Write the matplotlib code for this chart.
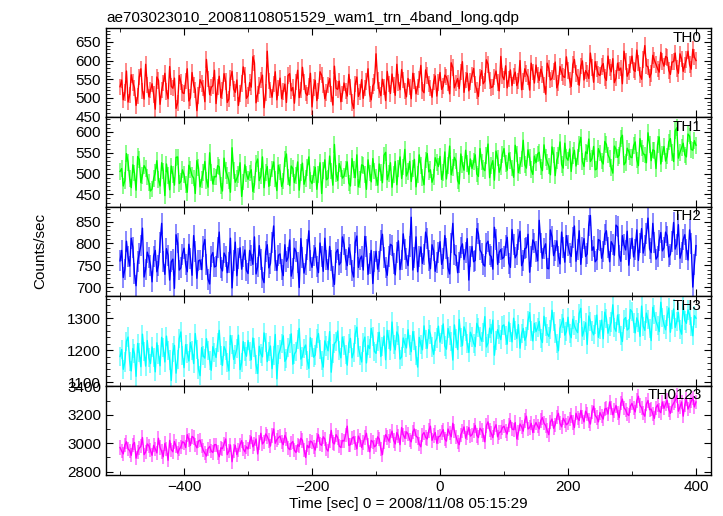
import numpy as np
import matplotlib
matplotlib.use("Agg")
import matplotlib.pyplot as plt
from matplotlib.ticker import MultipleLocator

plt.rcParams['font.family'] = ['Liberation Sans', 'DejaVu Sans']

# tempo: bins de 2.5 s, de -500 a 400 s
t_inicio = -500
t_bin = 2.5

th0 = [530,548, 495,515, 572,489, 508,562, 541,527, 480,505, 556,578, 519,497, 590,535, 503,521,
       538,509, 470,556, 547,483, 521,540, 566,517, 498,584, 531,526, 553,472, 487,560, 542,514,
       512,545, 578,492, 501,568, 535,522, 466,507, 549,539, 527,490, 603,551, 509,528, 533,574,
       485,530, 558,501, 520,565, 544,488, 497,553, 571,524, 515,548, 480,512, 539,583, 562,499,
       506,541, 529,610, 594,487, 511,533, 548,561, 474,514, 625,545, 522,502, 537,570, 495,526,
       553,498, 517,537, 488,560, 565,519, 528,486, 542,574, 501,521, 582,543, 513,507, 531,566,
       476,528, 547,493, 519,570, 561,534, 498,515, 535,552, 510,481, 585,526, 523,545, 490,511,
       540,519, 505,563, 529,488, 472,537, 556,504, 516,549, 499,526, 544,578, 510,495, 532,541,
       618,547, 521,506, 550,529, 493,571, 538,512, 564,535, 507,590, 541,522, 576,548, 519,503,
       552,530, 498,566, 545,511, 530,549, 587,520, 514,575, 560,537, 526,502, 543,559, 505,541,
       568,523, 532,561, 556,540, 511,594, 581,527, 540,552, 525,570, 597,515, 548,566, 519,544,
       562,579, 536,520, 504,555, 573,538, 545,602, 590,547, 528,530, 556,572, 541,519, 611,558,
       549,586, 527,551, 575,533, 558,569, 533,545, 600,522, 544,578, 566,556, 521,593, 570,540,
       588,561, 547,577, 563,535, 510,593, 579,548, 552,571, 596,527, 540,584, 568,557, 555,610,
       574,548, 531,589, 603,565, 556,534, 585,599, 548,573, 566,552, 620,581, 542,597, 578,563,
       560,584, 592,555, 547,612, 581,570, 605,541, 553,593, 574,580, 538,625, 597,558, 569,590,
       612,575, 571,628, 594,561, 550,603, 640,586, 583,555, 566,614, 601,590, 578,569, 622,598,
       585,611, 608,574, 563,596, 597,620, 579,566, 618,604, 571,588, 603,625, 589,577, 630,609,
       600]

th1 = [505,512, 470,483, 548,527, 488,466, 521,501, 460,541, 534,478, 496,519, 512,492, 479,458,
       463,488, 502,531, 485,470, 526,506, 447,523, 495,461, 518,497, 472,539, 540,476, 481,509,
       497,474, 455,520, 510,495, 489,452, 531,514, 468,486, 503,529, 484,467, 550,502, 475,493,
       492,519, 516,471, 458,537, 507,496, 484,455, 562,508, 479,488, 498,526, 445,480, 521,499,
       486,501, 509,457, 473,524, 535,483, 494,540, 466,502, 517,469, 490,511, 528,487, 459,520,
       504,469, 482,535, 547,492, 471,518, 512,478, 495,528, 460,503, 525,474, 488,515, 540,483,
       476,498, 515,462, 497,526, 452,507, 533,485, 489,542, 506,472, 570,500, 483,524, 511,489,
       494,511, 528,477, 470,536, 509,490, 545,468, 486,521, 519,497, 462,533, 501,480, 536,506,
       490,472, 523,503, 478,544, 551,485, 500,526, 467,498, 529,473, 512,540, 488,516, 558,494,
       505,529, 481,512, 534,468, 497,545, 520,490, 473,533, 548,504, 509,479, 492,538, 527,517,
       541,486, 503,552, 487,520, 566,497, 514,539, 530,483, 475,547, 522,508, 556,524, 498,535,
       512,529, 545,499, 493,560, 528,512, 507,543, 571,490, 519,531, 484,554, 537,503, 516,546,
       560,524, 508,549, 532,513, 491,568, 547,502, 520,535, 580,521, 513,557, 538,509, 498,542,
       526,547, 551,516, 507,569, 539,528, 518,497, 564,545, 495,532, 543,576, 522,513, 573,538,
       532,559, 505,543, 556,518, 540,571, 587,529, 517,552, 548,583, 529,536, 565,509, 511,560,
       549,530, 523,577, 570,545, 536,514, 501,566, 558,539, 544,585, 592,521, 527,561, 553,540,
       538,567, 576,533, 519,584, 561,548, 545,526, 598,570, 531,557, 555,512, 570,588, 523,547,
       565,530, 542,576, 584,551, 529,603, 610,537, 551,562, 573,545, 540,595, 590,558, 556,579,
       568]

th2 = [760,784, 722,741, 805,769, 748,812, 791,730, 703,758, 777,796, 835,723, 741,780, 768,750,
       712,771, 784,735, 750,802, 846,759, 729,788, 773,716, 758,764, 697,820, 801,739, 744,775,
       789,752, 735,798, 766,727, 818,781, 720,760, 762,740, 794,809, 751,718, 707,771, 779,746,
       748,791, 826,745, 737,778, 770,733, 756,812, 698,760, 803,726, 765,790, 741,769, 785,738,
       731,784, 772,752, 815,730, 746,795, 763,721, 710,781, 797,744, 754,802, 840,761, 738,773,
       776,741, 726,797, 759,768, 808,725, 743,789, 781,756, 699,811, 767,732, 752,786, 829,760,
       745,773, 790,748, 733,801, 769,736, 812,762, 740,793, 761,724, 706,779, 786,751, 757,815,
       798,764, 749,790, 774,737, 723,802, 817,745, 764,771, 739,816, 792,729, 755,784, 708,759,
       782,741, 758,806, 821,768, 744,727, 771,798, 795,755, 728,780, 806,740, 762,822, 787,766,
       749,792, 860,739, 768,815, 735,770, 792,754, 775,826, 811,761, 742,797, 783,736, 757,780,
       804,752, 766,818, 789,744, 730,801, 846,775, 772,733, 757,790, 799,763, 780,811, 716,771,
       793,758, 761,834, 822,785, 778,752, 748,799, 805,774, 770,741, 837,808, 752,780, 786,765,
       769,796, 814,755, 745,832, 797,767, 775,810, 828,749, 760,788, 790,821, 734,771, 808,801,
       781,760, 853,801, 766,789, 799,743, 742,831, 815,772, 784,806, 771,753, 826,790, 757,818,
       795,778, 770,813, 840,759, 787,829, 752,791, 811,770, 776,842, 864,784, 792,758, 763,809,
       806,766, 781,821, 829,790, 758,804, 797,773, 842,838, 773,759, 818,797, 785,828, 750,789,
       812,769, 787,831, 761,801, 834,778, 796,822, 858,788, 779,846, 803,764, 770,807, 825,783,
       790,826, 817,769, 775,804, 848,787, 798,843, 766,780, 809,820, 786,762, 831,799, 700,752,
       795]

th3 = [1180,1202, 1140,1163, 1228,1241, 1165,1135, 1205,1189, 1118,1221, 1192,1148, 1250,1196, 1150,1230, 1176,1158,
       1210,1178, 1132,1223, 1187,1151, 1240,1207, 1163,1244, 1198,1169, 1105,1192, 1215,1128, 1172,1236, 1257,1184,
       1145,1217, 1190,1166, 1224,1199, 1158,1252, 1203,1141, 1120,1208, 1182,1175, 1236,1200, 1168,1137, 1211,1193,
       1177,1224, 1262,1183, 1152,1211, 1199,1160, 1135,1246, 1218,1171, 1186,1204, 1247,1139, 1161,1227, 1195,1181,
       1230,1196, 1170,1238, 1208,1154, 1127,1212, 1189,1179, 1254,1225, 1164,1197, 1213,1142, 1183,1249, 1110,1186,
       1201,1222, 1245,1165, 1174,1207, 1222,1251, 1156,1188, 1196,1233, 1268,1172, 1180,1206, 1216,1167, 1143,1239,
       1209,1178, 1185,1236, 1252,1203, 1167,1147, 1229,1213, 1198,1258, 1131,1189, 1221,1227, 1260,1198, 1176,1241,
       1215,1187, 1153,1221, 1237,1176, 1193,1250, 1272,1207, 1184,1163, 1224,1241, 1160,1215, 1205,1268, 1243,1196,
       1190,1228, 1256,1180, 1211,1244, 1170,1262, 1233,1200, 1288,1219, 1201,1257, 1245,1172, 1179,1238, 1220,1207,
       1264,1216, 1195,1258, 1231,1183, 1147,1240, 1218,1201, 1276,1233, 1206,1264, 1250,1210, 1187,1226, 1238,1275,
       1225,1250, 1282,1213, 1203,1268, 1247,1228, 1169,1279, 1236,1202, 1296,1240, 1214,1273, 1258,1221, 1193,1256,
       1241,1222, 1211,1284, 1270,1243, 1228,1256, 1305,1210, 1222,1269, 1252,1294, 1184,1230, 1264,1249, 1233,1276,
       1279,1245, 1219,1288, 1256,1226, 1300,1262, 1237,1280, 1206,1251, 1268,1231, 1244,1292, 1318,1260, 1229,1284,
       1258,1271, 1290,1237, 1224,1306, 1273,1252, 1243,1264, 1325,1289, 1251,1221, 1198,1268, 1284,1300, 1247,1259,
       1303,1252, 1239,1297, 1276,1264, 1255,1315, 1331,1244, 1262,1286, 1218,1307, 1290,1260, 1248,1280, 1310,1240,
       1266,1294, 1236,1319, 1299,1253, 1273,1288, 1342,1270, 1259,1310, 1283,1245, 1227,1296, 1302,1263, 1268,1327,
       1320,1285, 1254,1301, 1287,1243, 1338,1275, 1262,1316, 1295,1267, 1230,1334, 1312,1290, 1276,1258, 1350,1303,
       1281,1264, 1307,1332, 1256,1297, 1329,1271, 1290,1318, 1266,1250, 1345,1293, 1284,1326, 1310,1275, 1245,1308,
       1300]

th0123 = [2970,2945, 2925,2988, 3010,2960, 2948,2915, 2990,3005, 2895,2940, 2965,2978, 3040,2920, 2938,2995, 2982,2950,
          2915,2985, 2960,2932, 3035,2970, 2942,2905, 2998,2962, 2880,3020, 2955,2940, 3012,2978, 2930,2958, 2975,3010,
          3005,2970, 3060,3025, 2985,3048, 3040,2990, 2968,3015, 3022,2980, 2950,2930, 2910,2962, 2978,2945, 2935,2990,
          2990,2935, 2905,2968, 2962,2995, 3030,2920, 2944,2988, 2870,2945, 2985,2920, 2952,2990, 3018,2960, 2940,2975,
          2960,3010, 3045,2975, 2992,3030, 2925,3005, 3070,2995, 3010,3065, 3048,3020, 2980,3055, 3100,3000, 3025,3040,
          3050,3010, 2990,3055, 3032,2968, 2955,3000, 3012,2950, 2935,2990, 2978,3035, 3020,2955, 2900,2985, 2968,3015,
          3008,2975, 2952,3020, 3060,2995, 2985,3045, 3030,2960, 2945,3015, 3090,3005, 2995,3060, 3040,2980, 2970,3020,
          3015,3060, 3120,2985, 2990,3035, 3045,3000, 2960,3050, 3025,2970, 3005,3040, 3070,2990, 2940,3020, 3010,2975,
          2985,3045, 3030,2960, 2920,3010, 3060,3040, 3015,3050, 3085,3020, 2995,3075, 3050,2990, 3110,3060, 3035,3080,
          3065,3025, 3010,3080, 3100,3050, 3040,2995, 2975,3060, 3075,3040, 3030,3090, 3120,3020, 3055,3075, 3000,3045,
          3050,3075, 3095,3030, 3015,3100, 3070,3045, 3140,3085, 3045,3010, 2990,3060, 3085,3115, 3035,3070, 3110,3050,
          3060,3090, 3125,3055, 3040,3105, 3090,3060, 3010,3125, 3150,3095, 3070,3040, 3105,3130, 3045,3075, 3080,3110,
          3120,3085, 3065,3130, 3160,3100, 3095,3145, 3030,3075, 3135,3115, 3085,3160, 3190,3100, 3110,3140, 3075,3120,
          3145,3120, 3100,3160, 3180,3140, 3125,3090, 3060,3150, 3170,3105, 3130,3185, 3210,3140, 3115,3175, 3155,3130,
          3140,3170, 3195,3145, 3110,3210, 3175,3160, 3230,3185, 3150,3225, 3205,3160, 3135,3220, 3260,3195, 3180,3150,
          3215,3190, 3170,3240, 3245,3205, 3290,3250, 3200,3230, 3265,3215, 3180,3280, 3310,3250, 3235,3205, 3195,3260,
          3280,3245, 3220,3300, 3330,3265, 3250,3210, 3190,3275, 3300,3235, 3240,3205, 3175,3250, 3270,3230, 3215,3290,
          3245,3275, 3300,3235, 3210,3260, 3280,3300, 3335,3225, 3255,3290, 3190,3270, 3310,3240, 3265,3295, 3320,3255,
          3290]

# erro aproximado de cada banda (counts/sec)
erros = [22, 20, 24, 30, 50]

nomes = ["TH0", "TH1", "TH2", "TH3", "TH0123"]
cores = ["#ff0000", "#00ff00", "#0000ff", "#00ffff", "#ff00ff"]
limites_y = [(448, 687), (420, 635), (679, 884), (1089, 1369), (2777, 3405)]
ticks_y = [[450, 500, 550, 600, 650], [450, 500, 550, 600], [700, 750, 800, 850],
           [1100, 1200, 1300], [2800, 3000, 3200, 3400]]
minor_y = [10, 10, 10, 20, 100]

series = [th0, th1, th2, th3, th0123]

fig, axes = plt.subplots(5, 1, sharex=True, figsize=(7.23, 5.16), dpi=100)
fig.subplots_adjust(left=0.1466, right=0.983, top=0.9457, bottom=0.0795, hspace=0)

for i, ax in enumerate(axes):
    y = np.array(series[i])
    t = t_inicio + t_bin * np.arange(len(y))
    ax.errorbar(t, y, yerr=erros[i], fmt="none", ecolor=cores[i], alpha=0.5,
                elinewidth=1.3)
    ax.plot(t, y, color=cores[i], lw=1.0)
    ax.set_ylim(*limites_y[i])
    ax.set_yticks(ticks_y[i])
    ax.yaxis.set_minor_locator(MultipleLocator(minor_y[i]))
    ax.set_xlim(-522, 423)
    ax.xaxis.set_major_locator(MultipleLocator(200))
    ax.xaxis.set_minor_locator(MultipleLocator(100))
    ax.tick_params(which="both", direction="in", top=True, right=True,
                   labelsize=11)
    ax.tick_params(which="major", length=5)
    ax.tick_params(which="minor", length=3)
    for s in ax.spines.values():
        s.set_linewidth(1.0)
    ax.text(0.985, 0.97, nomes[i], transform=ax.transAxes, ha="right", va="top",
            fontsize=11)

axes[0].set_title("ae703023010_20081108051529_wam1_trn_4band_long.qdp",
                  loc="left", fontsize=11, pad=4)
axes[-1].set_xlabel("Time [sec] 0 = 2008/11/08 05:15:29", fontsize=11, labelpad=2)
fig.text(40 / 723, 1 - 251 / 516, "Counts/sec", rotation=90, ha="center",
         va="center", fontsize=11)

fig.savefig("out.png", dpi=100)
